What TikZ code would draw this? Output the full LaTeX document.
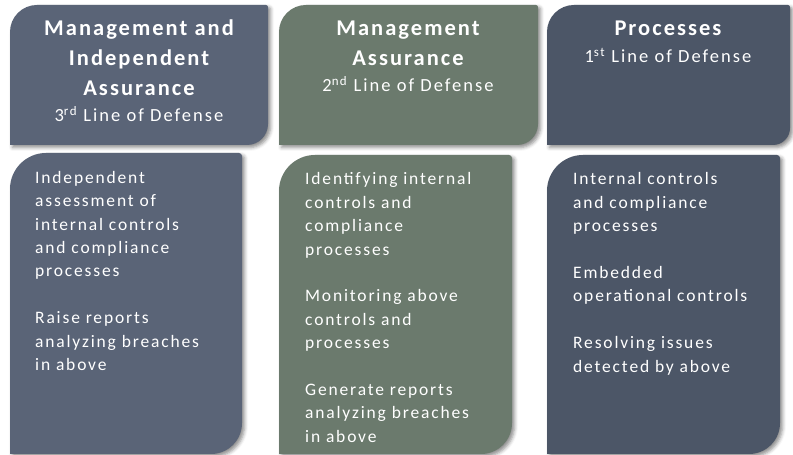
\documentclass[tikz,border=0pt]{standalone}
\usepackage{fontspec}
\setmainfont{Carlito}
\newfontfamily\titlefont{Carlito}[LetterSpace=9]
\newfontfamily\subfont{Carlito}[LetterSpace=11]
\newfontfamily\bodyfont{Carlito}[LetterSpace=10.5]
\usetikzlibrary{shadows.blur}

\definecolor{slate}{HTML}{5A6477}
\definecolor{sage}{HTML}{6B7A6D}
\definecolor{navy}{HTML}{4C5667}

% panel with individually rounded corners:
% #1 style, #2 left, #3 bottom, #4 right, #5 top, #6 top-left r, #7 top-right r, #8 bottom-right r
\newcommand\panel[8]{%
  \fill[#1] (#2,#3) -- (#2,#5-#6) arc[start angle=180,end angle=90,radius=#6]
    -- (#4-#7,#5) arc[start angle=90,end angle=0,radius=#7]
    -- (#4,#3+#8) arc[start angle=0,end angle=-90,radius=#8] -- cycle;}

\tikzset{
  x=1pt, y=1pt,
  shade/.style={blur shadow={shadow xshift=2.5pt, shadow yshift=-2.5pt,
    shadow blur radius=3.5pt, shadow opacity=45}},
  head/.style={text=white, inner sep=0pt, anchor=base,
    font=\titlefont\fontsize{22.5}{26}\selectfont\bfseries},
  sub/.style={text=white, inner sep=0pt, anchor=base,
    font=\subfont\fontsize{18.5}{20}\selectfont},
  body/.style={text=white, inner sep=0pt, anchor=base west,
    font=\bodyfont\fontsize{17.5}{20}\selectfont},
}

\begin{document}
\begin{tikzpicture}
\useasboundingbox (0,0) rectangle (793,455);
\clip (0,0) rectangle (793,455);

% header panels
\panel{slate,shade}{10}{310}{268}{450}{27}{2}{21}
\panel{sage,shade}{279}{310}{538}{450}{27}{2}{21}
\panel{navy,shade}{547}{310}{790}{450}{27}{2}{17}

% content panels
\panel{slate,shade}{10}{1}{242}{302}{36}{3}{31}
\panel{sage,shade}{279}{1}{512}{300}{36}{3}{31}
\panel{navy,shade}{547}{1}{780}{300}{36}{3}{31}

% header texts
\node[head] (h1a) at (139,419.5) {Management and};
\node[head] (h1b) at (139,389.5) {Independent};
\node[head] (h1c) at (139,359.5) {Assurance};
\node[sub]  (h1d) at (139,333.5) {3\textsuperscript{rd} Line of Defense};

\node[head] (h2a) at (408,419.5) {Management};
\node[head] (h2b) at (408,389.5) {Assurance};
\node[sub]  (h2d) at (408,363.5) {2\textsuperscript{nd} Line of Defense};

\node[head] (h3a) at (668,419) {Processes};
\node[sub]  (h3d) at (668,392.5) {1\textsuperscript{st} Line of Defense};

% body texts: line number / text, 23.4pt line pitch
\foreach \n/\t in {1/Independent, 2/assessment of, 3/internal controls,
    4/and compliance, 5/processes, 7/Raise reports,
    8/analyzing breaches, 9/in above}
  \node[body] (a\n) at (35,{271.7-(\n-1)*23.4}) {\t};

\foreach \n/\t in {1/Identifying internal, 2/controls and, 3/compliance,
    4/processes, 6/Monitoring above, 7/controls and, 8/processes,
    10/Generate reports, 11/analyzing breaches, 12/in above}
  \node[body] (b\n) at (305,{270-(\n-1)*23.4}) {\t};

\foreach \n/\t in {1/Internal controls, 2/and compliance, 3/processes,
    5/Embedded, 6/operational controls, 8/Resolving issues,
    9/detected by above}
  \node[body] (c\n) at (573,{270-(\n-1)*23.4}) {\t};
\end{tikzpicture}
\end{document}
